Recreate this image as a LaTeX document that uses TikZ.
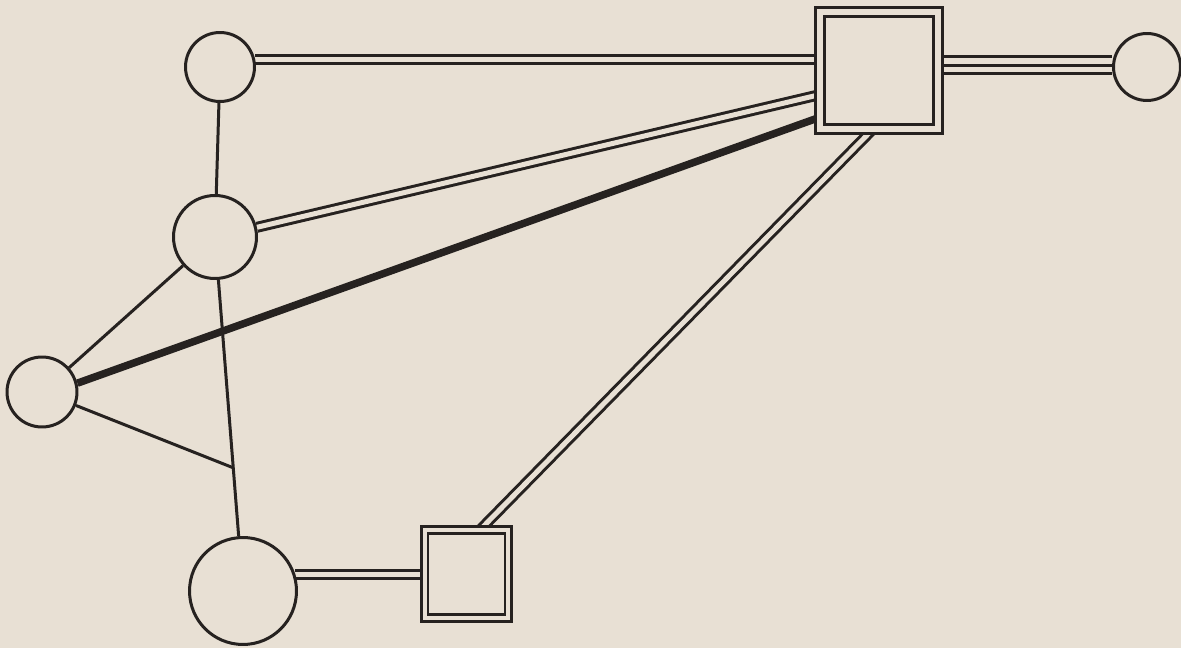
\documentclass[tikz,border=0pt]{standalone}
\usepackage{xcolor}
\usepackage{tikz}
\usetikzlibrary{calc}
\definecolor{paper}{RGB}{232,224,212}
\definecolor{ink}{RGB}{38,34,32}
\pgfdeclarelayer{bg}
\pgfdeclarelayer{links}
\pgfsetlayers{bg,links,main}
\tikzset{
  circ/.style={circle, draw=ink, line width=0.06cm, fill=paper, inner sep=0pt},
  bigbox/.style={rectangle, draw=ink, line width=0.06cm, double=paper, double distance=0.12cm, fill=paper, inner sep=0pt, minimum width=2.36cm, minimum height=2.34cm},
  smallbox/.style={rectangle, draw=ink, line width=0.055cm, double=paper, double distance=0.08cm, fill=paper, inner sep=0pt, minimum width=1.68cm, minimum height=1.76cm},
  link/.style={draw=ink, line width=0.06cm},
  dlink/.style={draw=ink, line width=0.06cm, double=paper, double distance=0.1cm},
  tlink/.style={draw=ink, line width=0.06cm, double=paper, double distance=0.28cm},
  heavy/.style={draw=ink, line width=0.15cm},
}

\begin{document}
\begin{tikzpicture}[x=0.02cm, y=-0.02cm]
\useasboundingbox (0,0) rectangle (1181,648);
\begin{pgfonlayer}{bg}
\fill[paper] (0,0) rectangle (1181,648);
\end{pgfonlayer}
\node[circ, minimum size=1.38cm] (top) at (220,67) {};
\node[circ, minimum size=1.66cm] (mid) at (215,237) {};
\node[circ, minimum size=1.40cm] (left) at (42,392) {};
\node[circ, minimum size=2.14cm] (low) at (243,591) {};
\node[circ, minimum size=1.34cm] (far) at (1147,67) {};
\node[bigbox] (hub) at (879,70.5) {};
\node[smallbox] (sub) at (466.5,574) {};
\coordinate (join) at ($(mid)!0.652!(low)$);
\begin{pgfonlayer}{links}
\draw[link] (top) -- (mid);
\draw[link] (mid) -- (low);
\draw[link] (left) -- (mid);
\draw[link] (left) -- (join);
\draw[heavy] (left.14) -- (hub.218);
\draw[dlink] (top.12) -- (top.12 -| hub.west);
\draw[dlink] (mid.13) -- (hub.202);
\draw[dlink] (low.18) -- (low.18 -| sub.west);
\draw[dlink] (hub.263) -- (sub.72);
\draw[tlink] (hub.east |- far.177) -- (far.177);
\draw[link] (hub.east |- far.177) -- (far.177);
\end{pgfonlayer}
\end{tikzpicture}
\end{document}
